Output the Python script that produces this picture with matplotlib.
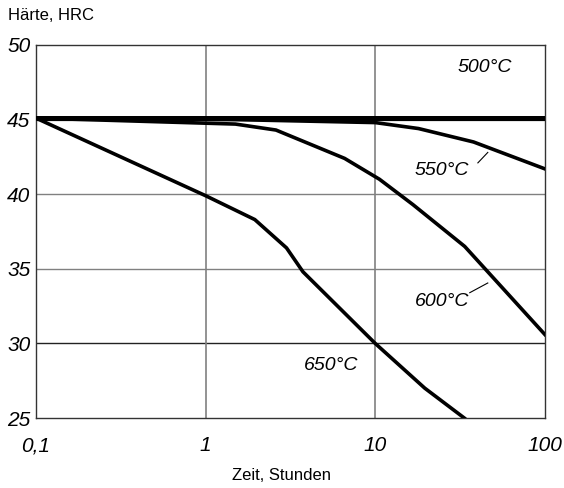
import numpy as np
import matplotlib.pyplot as plt

plt.rcParams['font.family'] = ['Liberation Sans', 'DejaVu Sans']

# hours vs. hardness (HRC) for each tempering temperature
t_500 = [0.1, 100]
h_500 = [45.1, 45.1]
t_550 = [0.1, 1.5, 10, 18, 38, 100]
h_550 = [45.1, 45.0, 44.8, 44.4, 43.5, 41.7]
t_600 = [0.1, 1.5, 2.6, 6.6, 10.6, 16.7, 33.7, 100]
h_600 = [45.1, 44.7, 44.3, 42.4, 41.0, 39.3, 36.5, 30.6]
t_650 = [0.1, 1.0, 1.95, 3.0, 3.75, 10.0, 19.6, 33.5]
h_650 = [45.1, 39.9, 38.3, 36.4, 34.8, 30.0, 27.0, 25.0]

xticks = [0.1, 1, 10, 100]
xticklabels = ["0,1", "1", "10", "100"]
yticks = [25, 30, 35, 40, 45, 50]

fig = plt.figure(figsize=(5.64, 4.88), dpi=100)
ax = fig.add_axes([0.0638, 0.1434, 0.9022, 0.7644])

for y in [30, 35, 40, 45]:
    ax.axhline(y, color='#222222' if y == 30 else '#808080', lw=1.0, zorder=1)
for x in [1, 10]:
    ax.axvline(x, color='#808080', lw=1.2, zorder=1)

ax.plot(t_500, h_500, color='black', lw=3.6, solid_capstyle='butt', zorder=3)
ax.plot(t_550, h_550, color='black', lw=2.6, zorder=3)
ax.plot(t_600, h_600, color='black', lw=2.6, zorder=3)
ax.plot(t_650, h_650, color='black', lw=2.6, zorder=3)

ax.set_xscale('log')
ax.set_xlim(0.1, 100)
ax.set_ylim(25, 50)
ax.set_xticks(xticks)
ax.set_xticklabels(xticklabels, fontstyle='italic', fontsize=15)
ax.xaxis.set_minor_locator(plt.NullLocator())
ax.set_yticks(yticks)
ax.set_yticklabels([str(v) for v in yticks], fontstyle='italic', fontsize=15)
ax.tick_params(length=0, pad=4)
ax.tick_params(axis='x', pad=13)
for s in ax.spines.values():
    s.set_color('#333333')
    s.set_linewidth(1.0)

lab_kw = dict(fontsize=14, fontstyle='italic', ha='center', va='center')
ax.text(44, 48.5, "500°C", **lab_kw)
ax.text(24.7, 41.6, "550°C", **lab_kw)
ax.text(24.7, 32.8, "600°C", **lab_kw)
ax.text(5.5, 28.55, "650°C", **lab_kw)
ax.plot([40.3, 46.1], [42.1, 42.8], color='black', lw=0.8)
ax.plot([36.1, 46.1], [33.4, 34.05], color='black', lw=0.8)

fig.text(0.014, 0.969, "Härte, HRC", fontsize=12, ha='left', va='center')
fig.text(0.5, 0.025, "Zeit, Stunden", fontsize=12, ha='center', va='center')

fig.savefig('out.png', dpi=100)
